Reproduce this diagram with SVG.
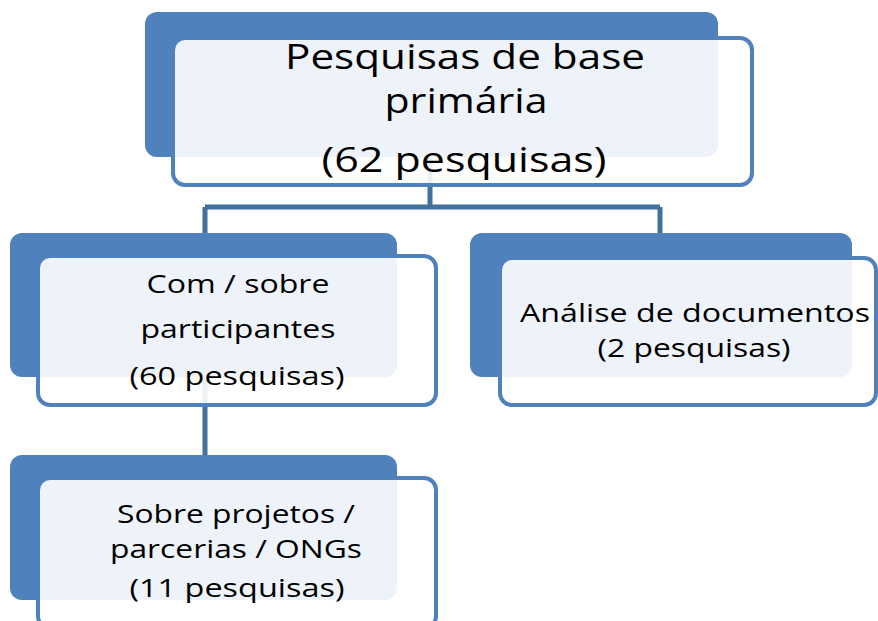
<svg xmlns="http://www.w3.org/2000/svg" width="878" height="621" viewBox="0 0 878 621">
<style>
.back{fill:#4F81BD}
.front{fill:#FFFFFF;fill-opacity:0.9;stroke:#4F81BD;stroke-width:4}
.conn{fill:none;stroke:#41719C;stroke-width:5}
text{font-family:"Open Sans","Noto Sans","DejaVu Sans",sans-serif;fill:#000;text-anchor:middle}
.big{font-size:35px}
.mid{font-size:26px}
</style>
<rect width="878" height="621" fill="#FFFFFF"/>
<g id="connectors">
<path class="conn" d="M430,157 V207 M205,207 H660 M205,207 V233 M660,207 V233 M205,377 V455"/>
</g>
<g id="node-root">
<rect class="back" x="145" y="12" width="573" height="145" rx="12"/>
<rect class="front" x="173" y="38" width="579" height="147" rx="12"/>
<text class="big" x="465" y="69" textLength="360" lengthAdjust="spacingAndGlyphs">Pesquisas de base</text>
<text class="big" x="466" y="113" textLength="163" lengthAdjust="spacingAndGlyphs">primária</text>
<text class="big" x="464" y="172" textLength="285" lengthAdjust="spacingAndGlyphs">(62 pesquisas)</text>
</g>
<g id="node-participantes">
<rect class="back" x="10" y="233" width="387" height="144" rx="12"/>
<rect class="front" x="38" y="256" width="398" height="149" rx="12"/>
<text class="mid" x="238" y="293" textLength="183" lengthAdjust="spacingAndGlyphs">Com / sobre</text>
<text class="mid" x="238" y="338" textLength="195" lengthAdjust="spacingAndGlyphs">participantes</text>
<text class="mid" x="237" y="385" textLength="215" lengthAdjust="spacingAndGlyphs">(60 pesquisas)</text>
</g>
<g id="node-documentos">
<rect class="back" x="470" y="233" width="382" height="144" rx="12"/>
<rect class="front" x="500" y="258" width="376" height="147" rx="12"/>
<text class="mid" x="695" y="322" textLength="350" lengthAdjust="spacingAndGlyphs">Análise de documentos</text>
<text class="mid" x="694" y="357" textLength="193" lengthAdjust="spacingAndGlyphs">(2 pesquisas)</text>
</g>
<g id="node-projetos">
<rect class="back" x="10" y="455" width="387" height="145" rx="12"/>
<rect class="front" x="38" y="478" width="398" height="150" rx="12"/>
<text class="mid" x="236" y="523" textLength="238" lengthAdjust="spacingAndGlyphs">Sobre projetos /</text>
<text class="mid" x="236" y="558" textLength="252" lengthAdjust="spacingAndGlyphs">parcerias / ONGs</text>
<text class="mid" x="237" y="597" textLength="215" lengthAdjust="spacingAndGlyphs">(11 pesquisas)</text>
</g>
</svg>
